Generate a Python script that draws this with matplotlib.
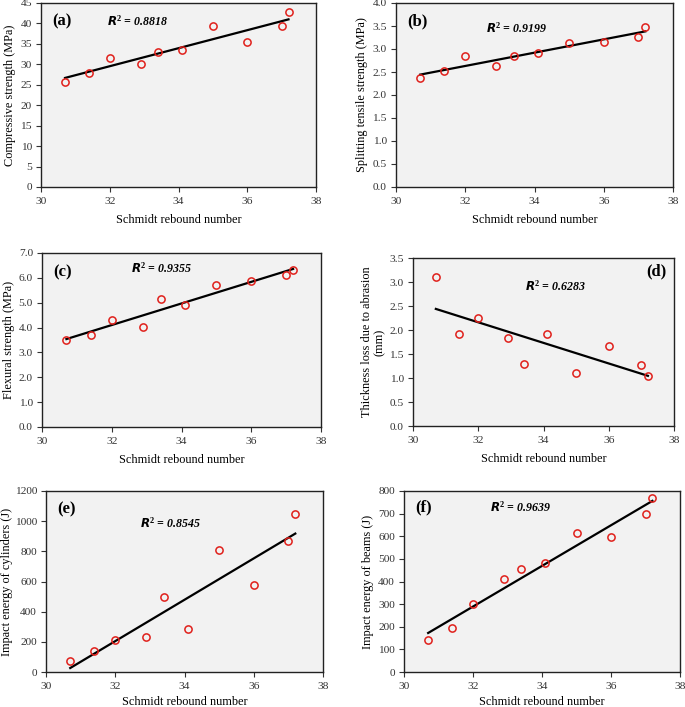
import numpy as np
import matplotlib
matplotlib.use("Agg")
import matplotlib.pyplot as plt

plt.rcParams['font.family'] = ['Liberation Serif', 'DejaVu Serif']
plt.rcParams['mathtext.fontset'] = 'custom'
plt.rcParams['mathtext.rm'] = 'Liberation Serif'
plt.rcParams['mathtext.it'] = 'Liberation Serif:italic'
plt.rcParams['mathtext.bf'] = 'Liberation Serif:bold'

rebound = [30.7, 31.4, 32.0, 32.9, 33.4, 34.1, 35.0, 36.0, 37.0, 37.2]
compressive = [25.7, 28.0, 31.6, 30.2, 33.1, 33.4, 39.3, 35.4, 39.4, 42.7]
splitting = [2.36, 2.53, 2.84, 2.64, 2.85, 2.92, 3.12, 3.16, 3.27, 3.47]
flexural = [3.48, 3.70, 4.32, 4.04, 5.15, 4.90, 5.72, 5.86, 6.10, 6.30]
abrasion = [3.10, 1.92, 2.24, 1.83, 1.29, 1.91, 1.11, 1.66, 1.28, 1.04]
impact_cyl = [70, 140, 215, 235, 500, 285, 810, 578, 870, 1045]
impact_beam = [140, 193, 300, 412, 457, 480, 615, 598, 697, 770]

r2_values = ["0.8818", "0.9199", "0.9355", "0.6283", "0.8545", "0.9639"]
panel_labels = ["(a)", "(b)", "(c)", "(d)", "(e)", "(f)"]
ylabels = ["Compressive strength (MPa)", "Splitting tensile strength (MPa)",
           "Flexural strength (MPa)", "Thickness loss due to abrasion\n(mm)",
           "Impact energy of cylinders (J)", "Impact energy of beams (J)"]
series = [compressive, splitting, flexural, abrasion, impact_cyl, impact_beam]
yticks = [np.arange(0, 46, 5), np.arange(0, 4.01, 0.5), np.arange(0, 7.01, 1.0),
          np.arange(0, 3.51, 0.5), np.arange(0, 1201, 200), np.arange(0, 801, 100)]
yfmt = ["{:.0f}", "{:.1f}", "{:.1f}", "{:.1f}", "{:.0f}", "{:.0f}"]

W, H = 685, 707
# axes boxes in pixels: left, right, top, bottom
boxes = [(41, 316, 3, 187), (396, 673, 3, 187),
         (42, 321, 253, 427), (413, 674, 258, 426),
         (46, 323, 491, 672), (404, 680, 491, 672)]
r2_pos = [(0.24, 0.90), (0.325, 0.86), (0.32, 0.91), (0.43, 0.83), (0.34, 0.82), (0.31, 0.91)]
lab_pos = [(0.04, 0.90, 'left'), (0.04, 0.90, 'left'), (0.04, 0.89, 'left'),
           (0.97, 0.92, 'right'), (0.04, 0.90, 'left'), (0.04, 0.91, 'left')]
xlabelpads = [5.5, 5.5, 5.5, 5.5, 3.5, 3.5]
ylabelpads = [3, 3, 3, 3, 1, 3]

fig = plt.figure(figsize=(W/100, H/100), dpi=100)
x = np.array(rebound)
for i in range(6):
    l, r, t, b = boxes[i]
    ax = fig.add_axes([l/W, 1 - b/H, (r-l)/W, (b-t)/H])
    ax.set_facecolor('#f2f2f2')
    y = np.array(series[i])
    ax.plot(x, y, 'o', mfc='none', mec='#e0201b', mew=1.1, ms=5.2, zorder=3)
    k, c = np.polyfit(x, y, 1)
    xl = np.array([x.min(), x.max()])
    ax.plot(xl, k*xl + c, color='black', lw=1.6, zorder=2)
    ax.set_xlim(30, 38)
    ax.set_xticks([30, 32, 34, 36, 38])
    yt = yticks[i]
    ax.set_ylim(yt[0], yt[-1])
    ax.set_yticks(yt)
    ax.set_yticklabels([yfmt[i].format(v) for v in yt])
    ax.tick_params(direction='out', length=3.5, width=0.8, labelsize=8.2, colors='#333333', pad=3)
    ax.tick_params(axis='x', pad=4)
    for s in ax.spines.values():
        s.set_linewidth(1.0)
        s.set_color('#222222')
    ax.set_xlabel("Schmidt rebound number", fontsize=8.8, labelpad=xlabelpads[i])
    ax.set_ylabel(ylabels[i], fontsize=8.8, labelpad=ylabelpads[i], linespacing=1.0)
    rx, ry = r2_pos[i]
    ax.text(rx, ry, r"$\mathbfit{R}^{\mathbf{2}}$" + " = " + r2_values[i], transform=ax.transAxes,
            fontsize=8.6, fontweight='bold', fontstyle='italic', ha='left', va='center')
    px, py, ha = lab_pos[i]
    ax.text(px, py, panel_labels[i], transform=ax.transAxes, fontsize=12,
            fontweight='bold', ha=ha, va='center')

fig.savefig("out.png", dpi=100)
